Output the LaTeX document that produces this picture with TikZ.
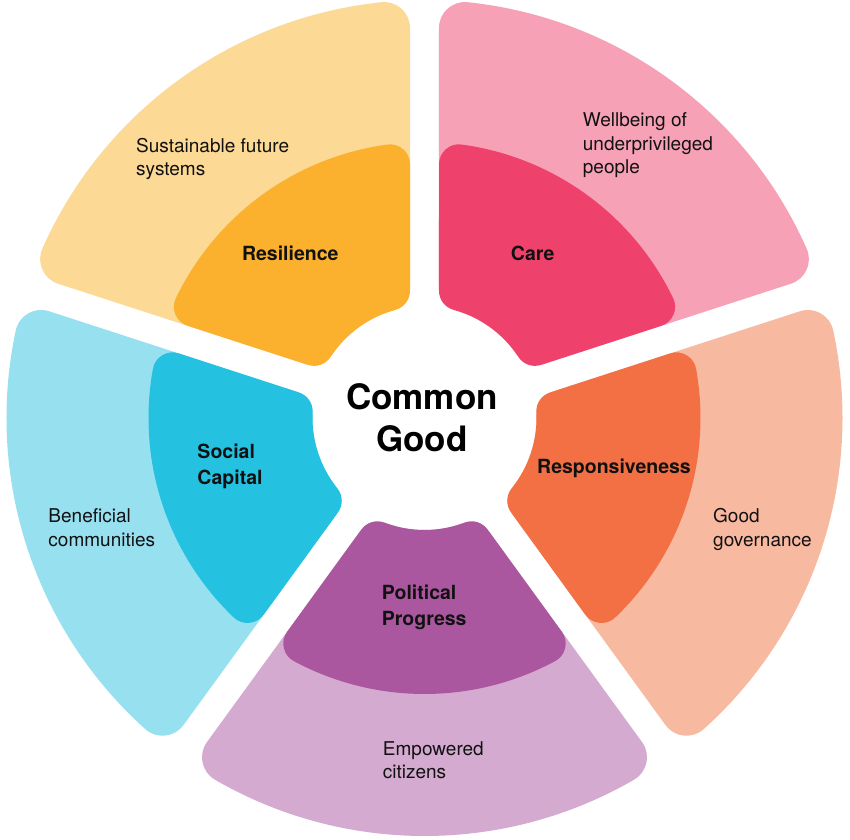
\documentclass[tikz,border=0pt]{standalone}
\usepackage{fontspec}
\setmainfont{TeX Gyre Heros}
\definecolor{lYel}{HTML}{FCD995}
\definecolor{dYel}{HTML}{FBB12D}
\definecolor{lPink}{HTML}{F6A1B6}
\definecolor{dPink}{HTML}{EE416B}
\definecolor{lSal}{HTML}{F8B9A1}
\definecolor{dOra}{HTML}{F27044}
\definecolor{lPur}{HTML}{D5AAD0}
\definecolor{dPur}{HTML}{AB579F}
\definecolor{lCyan}{HTML}{97E0F0}
\definecolor{dCyan}{HTML}{24C1E0}
\definecolor{ink}{HTML}{111111}
% #1 start angle, #2 end angle, #3 inner radius, #4 outer radius, #5 colour, #6 corner radius
\newcommand{\wheelseg}[6]{%
  \pgfmathsetmacro{\wsRo}{#4-#6}%
  \pgfmathsetmacro{\wsRi}{#3+#6}%
  \pgfmathsetmacro{\wsG}{14.5+#6}%
  \pgfmathsetmacro{\wsOa}{#1+asin(\wsG/\wsRo)}%
  \pgfmathsetmacro{\wsOb}{#2-asin(\wsG/\wsRo)}%
  \pgfmathsetmacro{\wsIa}{#1+asin(\wsG/\wsRi)}%
  \pgfmathsetmacro{\wsIb}{#2-asin(\wsG/\wsRi)}%
  \filldraw[#5, line width=#6*2pt, line join=round]
    (\wsOa:\wsRo) arc[start angle=\wsOa, end angle=\wsOb, radius=\wsRo]
    -- (\wsIb:\wsRi) arc[start angle=\wsIb, end angle=\wsIa, radius=\wsRi] -- cycle;
}
\newcommand{\twol}[2]{\vtop{\hbox{#1}\hbox{#2}}}
\newcommand{\threel}[3]{\vtop{\hbox{#1}\hbox{#2}\hbox{#3}}}
\begin{document}
\begin{tikzpicture}[x=1pt,y=1pt,
  sub/.style={inner sep=0pt, anchor=base west, text=ink, font=\fontsize{19}{23.5}\selectfont},
  key/.style={inner sep=0pt, text=ink, font=\fontsize{19.5}{26}\selectfont\bfseries},
  title/.style={inner sep=0pt, anchor=base, text=black, font=\fontsize{35}{42}\selectfont\bfseries}]
\fill[white] (-424.5,-421) rectangle (425.5,418);
\path[use as bounding box] (-424.5,-421) rectangle (425.5,418);
% light outer segments
\wheelseg{18}{90}{112}{418}{lPink}{26}
\wheelseg{90}{162}{112}{418}{lYel}{26}
\wheelseg{162}{234}{112}{418}{lCyan}{26}
\wheelseg{234}{306}{112}{418}{lPur}{26}
\wheelseg{-54}{18}{112}{418}{lSal}{26}
% dark inner segments
\wheelseg{18}{90}{112}{276}{dPink}{20}
\wheelseg{90}{162}{112}{276}{dYel}{20}
\wheelseg{162}{234}{112}{276}{dCyan}{20}
\wheelseg{234}{306}{112}{276}{dPur}{20}
\wheelseg{-54}{18}{112}{276}{dOra}{20}
% texts
\node[sub] (sust) at (-288.5,266) {\twol{Sustainable future}{systems}};
\node[key, anchor=base] (resil) at (-134.2,158) {Resilience};
\node[sub] (well) at (158.2,291.3) {\threel{Wellbeing of}{underprivileged}{people}};
\node[key, anchor=base] (care) at (108.2,157.3) {Care};
\node[key, anchor=base west] (social) at (-227.2,-40) {\twol{Social}{Capital}};
\node[sub] (benef) at (-376.2,-104.7) {\twol{Beneficial}{communities}};
\node[key, anchor=base west] (resp) at (112.5,-55.3) {Responsiveness};
\node[sub] (gov) at (288.5,-104.7) {\twol{Good}{governance}};
\node[key, anchor=base west] (polit) at (-42.8,-181) {\twol{Political}{Progress}};
\node[sub] (emp) at (-41.8,-337) {\twol{Empowered}{citizens}};
\node[title] (common) at (-2.5,8.7) {\vtop{\hbox to 0pt{\hss Common\hss}\hbox to 0pt{\hss Good\hss}}};
\end{tikzpicture}
\end{document}
